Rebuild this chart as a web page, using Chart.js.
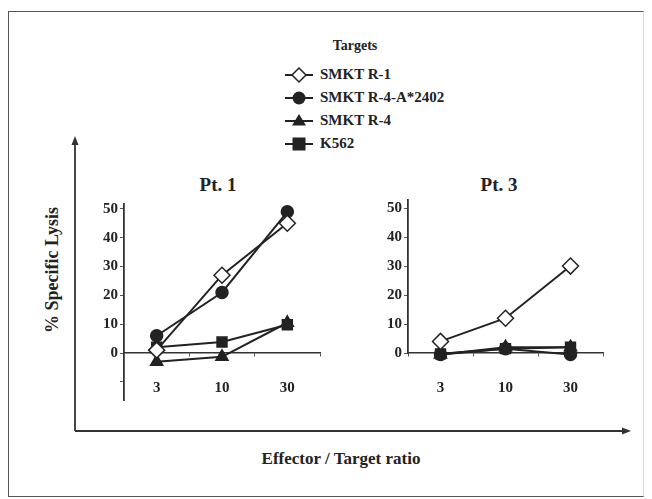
<!DOCTYPE html>
<html lang="en">
  <head>
    <meta charset="UTF-8" />
    <title>Specific Lysis</title>
    <script src="https://cdn.jsdelivr.net/npm/chart.js"></script>
    <style>
      body { margin: 0; background: #fff; font-family: "Liberation Serif", "Times New Roman", serif; font-weight: bold; color: #222; }
      .page { position: relative; width: 652px; height: 499px; overflow: hidden; }
      .frame { position: absolute; left: 8px; top: 11px; width: 634px; height: 484px;
        border: 1.5px solid #555; border-right-color: #ddd; }
      canvas { position: absolute; }
      .lbl { position: absolute; white-space: nowrap; }
      .mid { transform: translateX(-50%); }
      .legend { position: absolute; left: 284px; font-size: 15px; }
      .legend .row { height: 23px; display: flex; align-items: center; }
      .legend svg { margin-right: 6px; }
    </style>
  </head>
  <body>
    <div class="page">
      <div class="frame"></div>
      <svg width="652" height="499" style="position:absolute;left:0;top:0">
        <line x1="75" y1="143" x2="75" y2="431" stroke="#333" stroke-width="1.8" />
        <polygon points="75,136 71.5,145 78.5,145" fill="#333" />
        <line x1="75" y1="431" x2="624" y2="431" stroke="#333" stroke-width="1.8" />
        <polygon points="631,431 622,427.5 622,434.5" fill="#333" />
      </svg>
      <div class="lbl mid" style="left:355px;top:38px;font-size:14px">Targets</div>
      <div class="legend" style="top:63px" id="legend"></div>
      <div class="lbl mid" style="left:218px;top:174px;font-size:19px">Pt. 1</div>
      <div class="lbl mid" style="left:499px;top:174px;font-size:19px">Pt. 3</div>
      <div class="lbl mid" style="left:341px;top:449px;font-size:17px">Effector / Target ratio</div>
      <div class="lbl" style="left:52px;top:270px;font-size:18px;transform:translate(-50%,-50%) rotate(-90deg)">% Specific Lysis</div>
      <canvas id="pt1" width="250" height="230" style="left:80px;top:190px"></canvas>
      <canvas id="pt3" width="250" height="230" style="left:364px;top:186px"></canvas>
    </div>

    <script>
      const ratios = ["3", "10", "30"];
      const targets = ["SMKT R-1", "SMKT R-4-A*2402", "SMKT R-4", "K562"];
      const yTicks1 = [-10, 0, 10, 20, 30, 40, 50];
      const yTicks3 = [0, 10, 20, 30, 40, 50];

      // % specific lysis, Pt. 1
      const pt1R1 = [1, 27, 45];
      const pt1R4A = [6, 21, 49];
      const pt1R4 = [-3, -1.3, 10.5];
      const pt1K562 = [2, 3.8, 9.8];

      // % specific lysis, Pt. 3
      const pt3R1 = [4, 12, 30];
      const pt3R4A = [-0.5, 1.5, -0.5];
      const pt3R4 = [-0.5, 2, 2];
      const pt3K562 = [-0.3, 1.5, 2];

      const ink = "#222";
      const styles = [
        { pointStyle: "rectRot", radius: 8, fill: "#fff" },
        { pointStyle: "circle", radius: 6, fill: ink },
        { pointStyle: "triangle", radius: 7, fill: ink },
        { pointStyle: "rect", radius: 7, fill: ink },
      ];
      const font = { family: "'Liberation Serif', serif", weight: "bold", size: 15 };

      function datasets(series) {
        return series.map((data, i) => ({
          label: targets[i],
          data: data,
          borderColor: ink,
          borderWidth: 2,
          pointStyle: styles[i].pointStyle,
          pointRadius: styles[i].radius,
          pointBackgroundColor: styles[i].fill,
          pointBorderColor: ink,
          pointBorderWidth: 1.5,
          clip: false,
        }));
      }

      function panel(id, series, yMin, yMax, ticks, padding) {
        new Chart(document.getElementById(id), {
          type: "line",
          data: { labels: ratios, datasets: datasets(series) },
          options: {
            responsive: false,
            animation: false,
            devicePixelRatio: 1,
            layout: { padding: padding },
            plugins: { legend: { display: false }, tooltip: { enabled: false } },
            scales: {
              x: {
                type: "category",
                offset: true,
                position: { y: 0 },
                border: { display: true, color: "#333", width: 1.5 },
                grid: { drawOnChartArea: false, offset: true, tickLength: 3, color: "#555" },
                ticks: { color: ink, font: font, padding: 23 },
              },
              y: {
                min: yMin,
                max: yMax,
                afterBuildTicks: (s) => { s.ticks = ticks.map((v) => ({ value: v })); },
                afterFit: (s) => { s.width = 44; },
                border: { display: true, color: "#333", width: 1.8 },
                grid: { drawOnChartArea: false, tickLength: 4, color: "#555" },
                ticks: { color: ink, font: font, padding: 2, callback: (v) => (v < 0 ? "" : v) },
              },
            },
          },
        });
      }

      panel("pt1", [pt1R1, pt1R4A, pt1R4, pt1K562], -16.3, 51.7, yTicks1,
        { top: 14, right: 10, bottom: 20, left: 0 });
      panel("pt3", [pt3R1, pt3R4A, pt3R4, pt3K562], 0, 52.8, yTicks3,
        { top: 14, right: 11, bottom: 63, left: 0 });

      // legend rows: line with the series marker, then the name
      const shapes = [
        '<polygon points="15,3 22,10 15,17 8,10" fill="#fff" stroke="#222" stroke-width="1.5"/>',
        '<circle cx="15" cy="10" r="6.5" fill="#222"/>',
        '<polygon points="15,3 22,14.5 8,14.5" fill="#222"/>',
        '<rect x="8.5" y="3.5" width="13" height="13" fill="#222"/>',
      ];
      document.getElementById("legend").innerHTML = targets
        .map((name, i) =>
          '<div class="row"><svg width="30" height="20"><line x1="1" y1="10" x2="29" y2="10" stroke="#222" stroke-width="2"/>' +
          shapes[i] + "</svg>" + name + "</div>")
        .join("");
    </script>
  </body>
</html>
